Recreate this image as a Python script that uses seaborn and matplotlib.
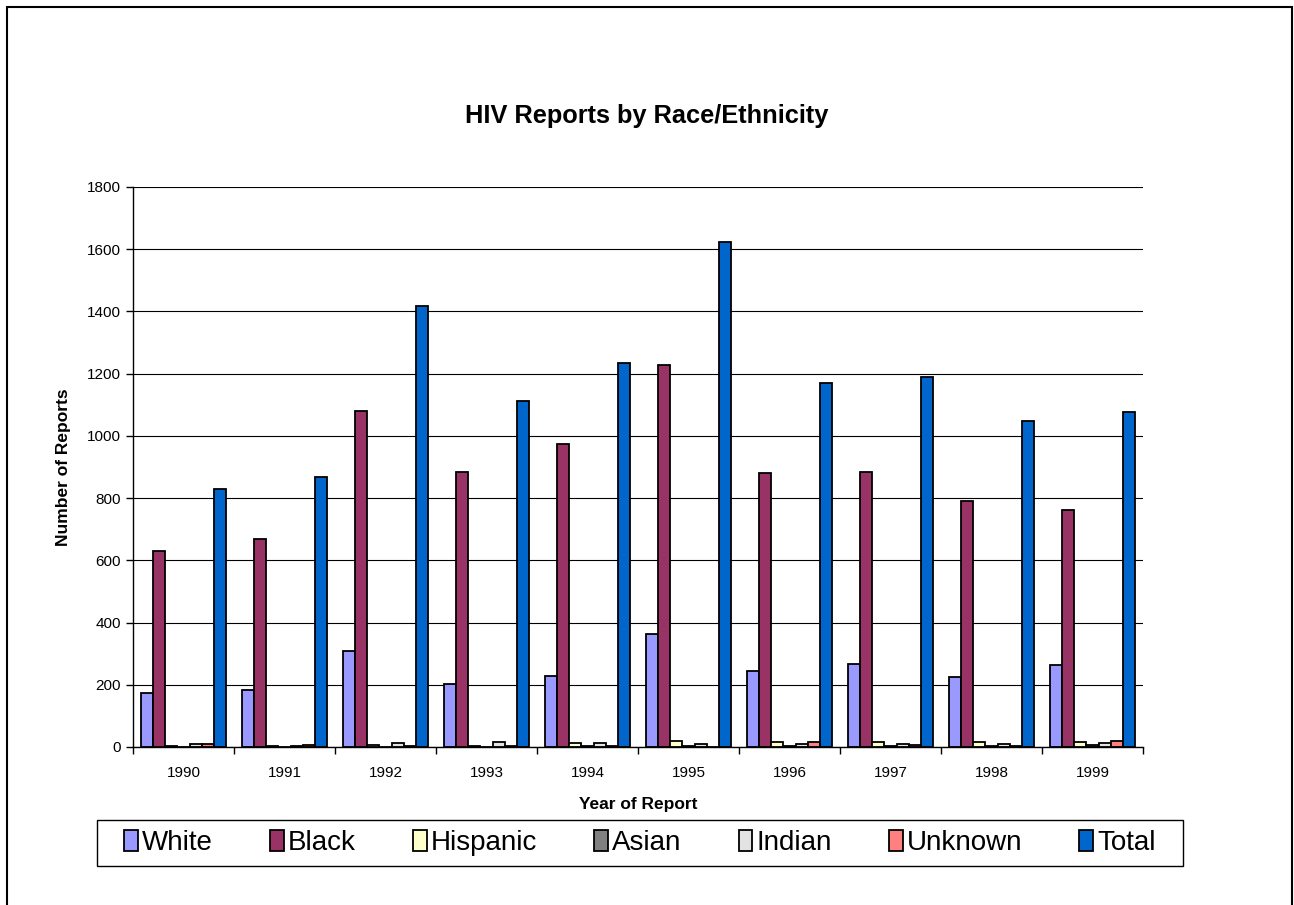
import numpy as np
import pandas as pd
import matplotlib
matplotlib.use("Agg")
import matplotlib.pyplot as plt
import seaborn as sns
from matplotlib.patches import Rectangle

# -----------------------------------------
# Data
# -----------------------------------------
years = ["1990", "1991", "1992", "1993", "1994", "1995", "1996", "1997", "1998", "1999"]
races = ["White", "Black", "Hispanic", "Asian", "Indian", "Unknown", "Total"]

white = [173, 182, 308, 203, 228, 362, 245, 268, 226, 262]
black = [630, 670, 1080, 885, 973, 1228, 880, 885, 790, 762]
hispanic = [3, 3, 5, 3, 12, 18, 15, 15, 16, 16]
asian = [1, 1, 1, 1, 2, 3, 4, 3, 2, 5]
indian = [8, 2, 14, 16, 12, 10, 10, 10, 9, 12]
unknown = [10, 5, 3, 2, 2, 0, 15, 5, 2, 20]
total = [828, 868, 1418, 1112, 1233, 1622, 1170, 1188, 1048, 1078]

colors = ["#9999FF", "#993366", "#FFFFCC", "#808080", "#E3E3E3", "#FF8080", "#0066CC"]

series = [white, black, hispanic, asian, indian, unknown, total]
rows = []
for race, vals in zip(races, series):
    for yr, v in zip(years, vals):
        rows.append({"year": yr, "race": race, "reports": v})
df = pd.DataFrame(rows)

# -----------------------------------------
# Plot
# -----------------------------------------
sns.set_style("white")
plt.rcParams["font.family"] = ["Liberation Sans", "DejaVu Sans"]
plt.rcParams["text.color"] = "black"
plt.rcParams["axes.labelcolor"] = "black"
plt.rcParams["xtick.color"] = "black"
plt.rcParams["ytick.color"] = "black"

fig = plt.figure(figsize=(12.94, 9.05), dpi=100)
ax = fig.add_axes([0.1028, 0.1746, 0.7805, 0.6188])

sns.barplot(data=df, x="year", y="reports", hue="race", hue_order=races,
            order=years, palette=colors, width=0.85, edgecolor="black",
            linewidth=1.3, saturation=1, errorbar=None, ax=ax, legend=False)

ax.set_ylim(0, 1800)
ax.set_xlim(-0.5, 9.5)
ax.set_yticks(range(0, 1801, 200))
ax.yaxis.grid(True, color="black", linewidth=0.8)
ax.set_axisbelow(True)
ax.xaxis.grid(False)

ax.set_xticks(np.arange(-0.5, 10, 1), minor=True)
ax.tick_params(axis="x", which="major", length=0, labelsize=11, pad=14)
ax.tick_params(axis="x", which="minor", length=5, width=1, direction="out", color="black")
ax.tick_params(axis="y", length=5, width=1, direction="out", color="black", labelsize=11)
ax.xaxis.set_ticks_position("bottom")
ax.yaxis.set_ticks_position("left")

for s in ["top", "right"]:
    ax.spines[s].set_visible(False)
for s in ["left", "bottom"]:
    ax.spines[s].set_color("black")
    ax.spines[s].set_linewidth(1)

ax.set_xlabel("Year of Report", fontsize=12.5, fontweight="bold", labelpad=12)
ax.set_ylabel("Number of Reports", fontsize=12.5, fontweight="bold", labelpad=12)
fig.text(0.5, 1 - 116 / 905, "HIV Reports by Race/Ethnicity", ha="center",
         va="center", fontsize=18.3, fontweight="bold")

# legend: entries without their own frame, box drawn separately
handles = [Rectangle((0, 0), 1, 1, facecolor=c, edgecolor="black", linewidth=1.3)
           for c in colors]
leg = fig.legend(handles, races, loc="center", bbox_to_anchor=(0.4946, 0.0685),
                 ncol=7, fontsize=20, frameon=False,
                 handlelength=0.5, handleheight=0.8, handletextpad=0.15,
                 columnspacing=2.05, borderpad=0.25)
fig.add_artist(Rectangle((97 / 1294, 1 - 866 / 905), 1086 / 1294, 46 / 905,
                         transform=fig.transFigure, fill=False,
                         edgecolor="black", linewidth=1))

# outer chart border
fig.add_artist(Rectangle((7 / 1294, -0.01), 1285 / 1294, 1 - 7 / 905 + 0.01,
                         transform=fig.transFigure, fill=False,
                         edgecolor="black", linewidth=1.5))

plt.savefig("out.png", dpi=100)
